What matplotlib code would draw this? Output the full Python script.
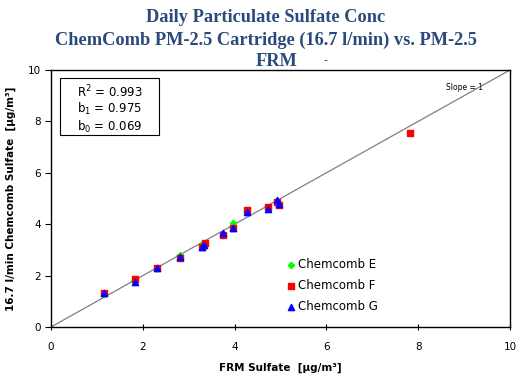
import matplotlib
matplotlib.use("Agg")
import matplotlib.pyplot as plt
from matplotlib.patches import Rectangle

# Data (FRM sulfate vs ChemComb sulfate, ug/m3)
e_x = [1.15, 1.80, 2.32, 2.81, 3.30, 3.75, 3.97, 4.26, 4.73, 4.93]
e_y = [1.30, 1.80, 2.30, 2.80, 3.22, 3.57, 4.03, 4.50, 4.62, 4.90]
f_x = [1.15, 1.83, 2.32, 2.81, 3.30, 3.36, 3.75, 3.97, 4.26, 4.73, 4.93, 4.97, 7.82]
f_y = [1.31, 1.86, 2.31, 2.70, 3.10, 3.26, 3.57, 3.84, 4.55, 4.68, 4.85, 4.75, 7.55]
g_x = [1.15, 1.83, 2.32, 2.81, 3.30, 3.33, 3.75, 3.97, 4.26, 4.73, 4.93, 4.97]
g_y = [1.31, 1.76, 2.29, 2.72, 3.12, 3.18, 3.65, 3.84, 4.47, 4.60, 4.94, 4.80]
ticks = [0, 2, 4, 6, 8, 10]
stats = ["R$^2$ = 0.993", "b$_1$ = 0.975", "b$_0$ = 0.069"]

fig = plt.figure(figsize=(5.32, 3.76), dpi=100)
ax = fig.add_axes([51/532, 1-327/376, 459/532, 257/376])

ax.plot([0, 10], [0, 10], color="#808080", lw=0.9, zorder=1)
ax.scatter(e_x, e_y, marker="D", s=10, color="#00FF00", label="Chemcomb E", zorder=3)
ax.scatter(f_x, f_y, marker="s", s=18, color="#FF0000", label="Chemcomb F", zorder=3)
ax.scatter(g_x, g_y, marker="^", s=20, color="#0000FF", label="Chemcomb G", zorder=4)

ax.set_xlim(0, 10)
ax.set_ylim(0, 10)
ax.set_xticks(ticks)
ax.set_yticks(ticks)
ax.tick_params(axis="x", direction="inout", length=5, labelsize=7.5, pad=8)
ax.tick_params(axis="y", direction="out", length=4, labelsize=7.5)
for s in ax.spines.values():
    s.set_linewidth(1.0)
    s.set_color("#000000")

ax.set_xlabel("FRM Sulfate  [µg/m³]", fontsize=7.5, fontweight="bold", labelpad=8)
ax.set_ylabel("16.7 l/min Chemcomb Sulfate  [µg/m³]", fontsize=7.5, fontweight="bold", labelpad=8)

leg = ax.legend(loc="upper left", bbox_to_anchor=(0.50, 0.285), frameon=False,
                fontsize=8.5, handletextpad=0.1, handlelength=1.0, labelspacing=0.65,
                borderaxespad=0)

# stats box
bx0, bx1 = (60-51)/459, (159-51)/459
by0, by1 = (327-135)/257, (327-78)/257
ax.add_patch(Rectangle((bx0, by0), bx1-bx0, by1-by0, transform=ax.transAxes,
                       fc="white", ec="black", lw=0.8, zorder=5))
for i, s in enumerate(stats):
    yy = [91.7, 109.3, 126.7][i]
    ax.text((bx0+bx1)/2, (327-yy)/257, s, transform=ax.transAxes, ha="center", va="center",
            fontsize=8.5, zorder=6)
ax.text(0.90, 0.93, "Slope = 1", transform=ax.transAxes, ha="center", va="center", fontsize=5.5)

title_color = "#2B4A7C"
tkw = dict(ha="center", va="center", fontsize=13.2, fontweight="bold",
           family="Liberation Serif", color=title_color)
fig.text(0.5, 1-17/376, "Daily Particulate Sulfate Conc", **tkw)
fig.text(0.5, 1-40/376, "ChemComb PM-2.5 Cartridge (16.7 l/min) vs. PM-2.5", **tkw)
fig.text(277/532, 1-62/376, "FRM", **tkw)
fig.text(325/532, 1-60/376, "-", ha="center", va="center", fontsize=8, color="#333333")

fig.savefig("out.png", dpi=100)
